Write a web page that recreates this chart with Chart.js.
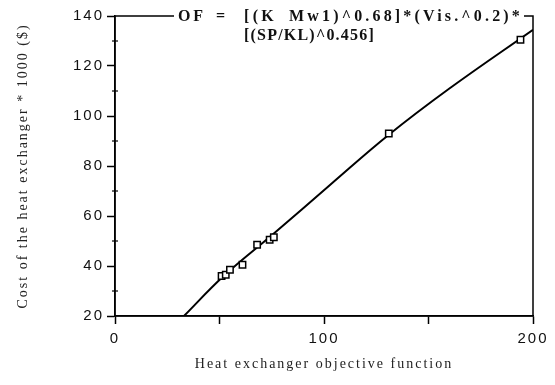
<!DOCTYPE html>
<html>
<head>
<meta charset="utf-8">
<script src="https://cdn.jsdelivr.net/npm/chart.js@4.4.0/dist/chart.umd.min.js"></script>
<style>
  body { margin: 0; background: #fff; }
</style>
</head>
<body>
<canvas id="myChart" width="555" height="385"></canvas>
<script>
// fitted cost curve
var curveX = [33, 52, 76, 103, 131, 160, 200];
var curveY = [20, 36, 53, 72.5, 92.5, 111, 134.5];
// measured heat exchangers (square markers)
var pointX = [51, 53, 55, 61, 68, 74, 76, 131, 194];
var pointY = [36, 36.5, 38.5, 40.5, 48.5, 50.5, 51.5, 93, 130.5];
var xTickLabels = [0, 100, 200];
var minorYTicks = [30, 50, 70, 90, 110, 130];
var legendLine1 = ["OF", "=", "[(K", "Mw1)^0.68]*(Vis.^0.2)*"];
var legendLine2 = "[(SP/KL)^0.456]";

function toXY(xs, ys) {
  return xs.map(function (v, i) { return { x: v, y: ys[i] }; });
}

// the old plot has its letters spread out a bit
var spacingPlugin = {
  id: "spacing",
  beforeUpdate: function (chart) { chart.ctx.letterSpacing = "2px"; },
  beforeDraw: function (chart) { chart.ctx.letterSpacing = "2px"; }
};

// box round the plot, small inner ticks and the formula legend sitting on the top edge
var framePlugin = {
  id: "frame",
  afterDraw: function (chart) {
    var ctx = chart.ctx, a = chart.chartArea, y = chart.scales.y;
    ctx.save();
    ctx.strokeStyle = "#000";
    ctx.lineWidth = 1.5;
    ctx.strokeRect(a.left, a.top, a.right - a.left, a.bottom - a.top);
    ctx.lineWidth = 1.2;
    minorYTicks.forEach(function (v) {
      var py = y.getPixelForValue(v);
      ctx.beginPath();
      ctx.moveTo(a.left - 3, py);
      ctx.lineTo(a.left + 3, py);
      ctx.stroke();
    });

    // legend text
    var l = a.left, t = a.top;
    ctx.fillStyle = "#fff";
    ctx.fillRect(l + 59, t - 9, 350, 17);
    ctx.fillStyle = "#111";
    ctx.font = "bold 16px 'Liberation Serif'";
    ctx.textBaseline = "middle";
    ctx.textAlign = "left";
    var fitText = function (txt, x0, yy, width) {
      ctx.letterSpacing = "0px";
      var w = ctx.measureText(txt).width;
      var sp = Math.max(0, (width - w) / txt.length);
      ctx.letterSpacing = sp + "px";
      ctx.fillText(txt, x0, yy);
      ctx.letterSpacing = "0px";
    };
    fitText(legendLine1[0], l + 63, t + 1, 28);
    ctx.fillText(legendLine1[1], l + 101, t + 1);
    fitText(legendLine1[2], l + 129, t + 1, 33);
    fitText(legendLine1[3], l + 174, t + 1, 234);
    fitText(legendLine2, l + 129, t + 20, 131);
    ctx.restore();
  }
};

new Chart("myChart", {
  type: "scatter",
  data: {
    datasets: [{
      type: "line",
      data: toXY(curveX, curveY),
      borderColor: "#000",
      borderWidth: 2,
      pointRadius: 0,
      tension: 0.4,
      fill: false,
      order: 2
    }, {
      data: toXY(pointX, pointY),
      pointStyle: "rect",
      pointRadius: 4.5,
      borderColor: "#000",
      borderWidth: 1.5,
      backgroundColor: "#fff",
      order: 1
    }]
  },
  plugins: [spacingPlugin, framePlugin],
  options: {
    responsive: false,
    animation: false,
    layout: { padding: { left: 0, right: 22, top: 16, bottom: 0 } },
    plugins: {
      legend: { display: false },
      tooltip: { enabled: false }
    },
    scales: {
      x: {
        type: "linear",
        min: 0,
        max: 200,
        afterFit: function (s) { s.height = 69; },
        ticks: {
          stepSize: 50,
          maxRotation: 0,
          color: "#111",
          padding: 6,
          font: { family: "'Liberation Sans'", size: 15 },
          callback: function (v) { return xTickLabels.indexOf(v) >= 0 ? String(v) : ""; }
        },
        grid: { drawOnChartArea: false, drawTicks: true, tickLength: 8, color: "#000", tickWidth: 1.5 },
        border: { color: "#000", width: 1.5 },
        title: {
          display: true,
          text: "Heat exchanger objective function",
          color: "#222",
          font: { family: "'Liberation Serif'", size: 14 },
          padding: { top: 0, bottom: 12 }
        }
      },
      y: {
        min: 20,
        max: 140,
        afterFit: function (s) { s.width = 115; },
        ticks: {
          stepSize: 20,
          color: "#111",
          padding: 3,
          font: { family: "'Liberation Sans'", size: 15 }
        },
        grid: { drawOnChartArea: false, drawTicks: true, tickLength: 8, color: "#000", tickWidth: 1.5 },
        border: { color: "#000", width: 1.5 },
        title: {
          display: true,
          text: "Cost of the heat exchanger * 1000 ($)",
          color: "#222",
          font: { family: "'Liberation Serif'", size: 14 },
          padding: { top: 15, bottom: 0 }
        }
      }
    }
  }
});
</script>
</body>
</html>
